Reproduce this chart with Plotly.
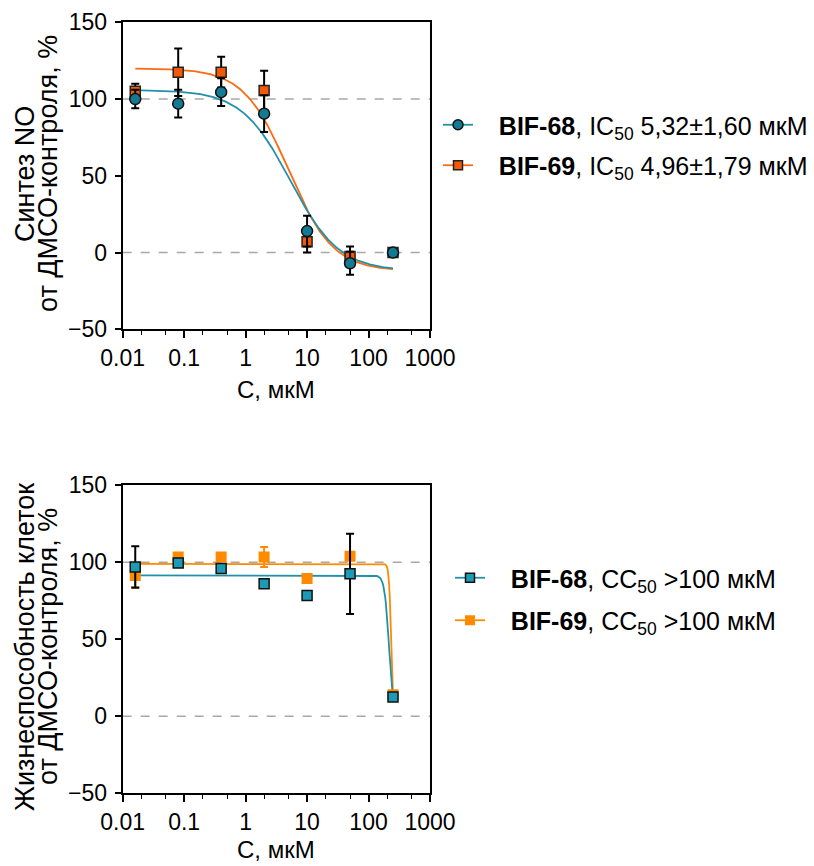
import numpy as np
import plotly.graph_objects as go

# Concentrations, µM
conc = [0.016, 0.08, 0.4, 2, 10, 50, 250]
x_ticks = [0.01, 0.1, 1, 10, 100, 1000]
x_tick_labels = ["0.01", "0.1", "1", "10", "100", "1000"]
y_ticks = [-50, 0, 50, 100, 150]

# NO synthesis, % of DMSO control (mean ± SD)
no_bif68 = [100, 97, 104.5, 90.5, 14, -7, 0]
no_bif68_err = [6, 9, 9, 12, 10, 7.5, 0]
no_bif69 = [105, 117.5, 117.5, 105.5, 7, -2.5, 0]
no_bif69_err = [5, 15.5, 10, 13, 7, 6.5, 0]

# Cell viability, % of DMSO control (mean ± SD)
via_bif68 = [97, 99.5, 96, 86, 78.5, 92.5, 12.5]
via_bif68_err = [13.5, 1, 1, 0, 0, 26, 0]
via_bif69 = [91.5, 103.5, 103.5, 103.5, 89.5, 104, 14]
via_bif69_err = [7.5, 0, 0, 6.5, 0, 0, 0]

# Four-parameter logistic fits
ic50_68, ic50_69 = 5.32, 4.96
fit_no_68 = dict(top=106, bottom=-12, ec50=ic50_68, hill=1.1)
fit_no_69 = dict(top=120, bottom=-12, ec50=ic50_69, hill=1.2)
fit_via_68 = dict(top=91.5, bottom=0, ec50=215, hill=12)
fit_via_69 = dict(top=99, bottom=0, ec50=233, hill=25)

TEAL_DARK = "#127b93"
TEAL_LINE = "#2390aa"
TEAL_LIGHT = "#1b9bb6"
ORANGE_RED = "#f25a0a"
ORANGE_LINE = "#ff6a10"
ORANGE = "#ff8a00"
FONT = "Liberation Sans, Arial, sans-serif"
TICK_SIZE = 23
LEGEND_SIZE = 25
X_TITLE_SIZE = 24
Y_TITLE_SIZE = 27
GAP = "&nbsp;&nbsp;&nbsp;"


def logistic(x, top, bottom, ec50, hill):
    x = np.asarray(x, dtype=float)
    return bottom + (top - bottom) / (1 + (x / ec50) ** hill)


xs = np.logspace(np.log10(conc[0]), np.log10(conc[-1]), 400)

fig = go.Figure()

# ---- top panel: NO synthesis ----
fig.add_trace(go.Scatter(x=xs, y=logistic(xs, **fit_no_69), mode="lines",
                         line=dict(color=ORANGE_LINE, width=1.8), showlegend=False,
                         xaxis="x", yaxis="y", hoverinfo="skip"))
fig.add_trace(go.Scatter(x=xs, y=logistic(xs, **fit_no_68), mode="lines",
                         line=dict(color=TEAL_LINE, width=1.8), showlegend=False,
                         xaxis="x", yaxis="y", hoverinfo="skip"))
fig.add_trace(go.Scatter(x=conc, y=no_bif69, mode="markers",
                         marker=dict(symbol="square", size=10, color=ORANGE_RED,
                                     line=dict(color="#222222", width=1.5)),
                         error_y=dict(type="data", array=no_bif69_err, color="black",
                                      thickness=2, width=4),
                         showlegend=False, xaxis="x", yaxis="y"))
fig.add_trace(go.Scatter(x=conc, y=no_bif68, mode="markers",
                         marker=dict(symbol="circle", size=11, color=TEAL_DARK,
                                     line=dict(color="#111111", width=1.5)),
                         error_y=dict(type="data", array=no_bif68_err, color="black",
                                      thickness=2, width=4),
                         showlegend=False, xaxis="x", yaxis="y"))

# legend entries, top panel
fig.add_trace(go.Scatter(x=[None], y=[None], mode="lines+markers",
                         name=GAP + "<b>BIF-68</b>, IC<sub>50</sub> 5,32±1,60 мкМ",
                         line=dict(color=TEAL_LINE, width=1.8),
                         marker=dict(symbol="circle", size=10, color=TEAL_DARK,
                                     line=dict(color="#111111", width=1.5)),
                         legend="legend", legendgroup="a", xaxis="x", yaxis="y"))
fig.add_trace(go.Scatter(x=[None], y=[None], mode="lines+markers",
                         name=GAP + "<b>BIF-69</b>, IC<sub>50</sub> 4,96±1,79 мкМ",
                         line=dict(color=ORANGE_LINE, width=1.8),
                         marker=dict(symbol="square", size=9, color=ORANGE_RED,
                                     line=dict(color="#222222", width=1.5)),
                         legend="legend", legendgroup="b", xaxis="x", yaxis="y"))

# ---- bottom panel: viability ----
fig.add_trace(go.Scatter(x=xs, y=logistic(xs, **fit_via_69), mode="lines",
                         line=dict(color=ORANGE, width=1.8), showlegend=False,
                         xaxis="x2", yaxis="y2", hoverinfo="skip"))
fig.add_trace(go.Scatter(x=xs, y=logistic(xs, **fit_via_68), mode="lines",
                         line=dict(color=TEAL_LINE, width=1.8), showlegend=False,
                         xaxis="x2", yaxis="y2", hoverinfo="skip"))
fig.add_trace(go.Scatter(x=conc, y=via_bif69, mode="markers",
                         marker=dict(symbol="square", size=11, color=ORANGE,
                                     line=dict(width=0)),
                         error_y=dict(type="data", array=via_bif69_err, color=ORANGE,
                                      thickness=2, width=4),
                         showlegend=False, xaxis="x2", yaxis="y2"))
fig.add_trace(go.Scatter(x=conc, y=via_bif68, mode="markers",
                         marker=dict(symbol="square", size=10, color=TEAL_LIGHT,
                                     line=dict(color="#111111", width=1.5)),
                         error_y=dict(type="data", array=via_bif68_err, color="black",
                                      thickness=2, width=4),
                         showlegend=False, xaxis="x2", yaxis="y2"))

fig.add_trace(go.Scatter(x=[None], y=[None], mode="lines+markers",
                         name=GAP + "<b>BIF-68</b>, CC<sub>50</sub> >100 мкМ",
                         line=dict(color=TEAL_LINE, width=1.8),
                         marker=dict(symbol="square", size=9, color=TEAL_LIGHT,
                                     line=dict(color="#111111", width=1.5)),
                         legend="legend2", legendgroup="c", xaxis="x2", yaxis="y2"))
fig.add_trace(go.Scatter(x=[None], y=[None], mode="lines+markers",
                         name=GAP + "<b>BIF-69</b>, CC<sub>50</sub> >100 мкМ",
                         line=dict(color=ORANGE, width=1.8),
                         marker=dict(symbol="square", size=10, color=ORANGE,
                                     line=dict(width=0)),
                         legend="legend2", legendgroup="d", xaxis="x2", yaxis="y2"))

W, H = 814, 866
x_dom = [122.7 / W, 430 / W]
top_dom = [1 - 329.3 / H, 1 - 22.3 / H]
bot_dom = [1 - 793.3 / H, 1 - 485.3 / H]

xaxis_style = dict(type="log", range=[-2, 3], tickvals=x_ticks, ticktext=x_tick_labels,
                   showline=True, linecolor="black", linewidth=2, mirror=True,
                   ticks="outside", ticklen=7, tickwidth=1.5, tickcolor="black",
                   minor=dict(ticks="outside", ticklen=4, tickwidth=1.2, tickcolor="black",
                              showgrid=False),
                   showgrid=False, zeroline=False, automargin=False,
                   tickfont=dict(family=FONT, size=TICK_SIZE, color="black"), domain=x_dom)
yaxis_style = dict(range=[-50, 150], tickvals=y_ticks,
                   showline=True, linecolor="black", linewidth=2, mirror=True,
                   ticks="outside", ticklen=6, tickwidth=1.5, tickcolor="black",
                   showgrid=False, zeroline=False, automargin=False, ticklabelstandoff=3,
                   tickfont=dict(family=FONT, size=TICK_SIZE, color="black"))

legend_style = dict(font=dict(family=FONT, size=LEGEND_SIZE, color="black"),
                    bgcolor="rgba(0,0,0,0)", xanchor="left", yanchor="middle",
                    traceorder="grouped", itemwidth=30)

fig.update_layout(
    width=W, height=H, margin=dict(l=0, r=0, t=0, b=0, autoexpand=False),
    paper_bgcolor="white", plot_bgcolor="white",
    font=dict(family=FONT, size=TICK_SIZE, color="black"),
    xaxis=dict(**xaxis_style, anchor="y"),
    yaxis=dict(**yaxis_style, domain=top_dom, anchor="x"),
    xaxis2=dict(**xaxis_style, anchor="y2"),
    yaxis2=dict(**yaxis_style, domain=bot_dom, anchor="x2"),
    legend=dict(**legend_style, tracegroupgap=5, x=438 / W, y=1 - 145 / H),
    legend2=dict(**legend_style, tracegroupgap=7, x=450 / W, y=1 - 599 / H),
    showlegend=True,
)

# dashed reference lines at 0 % and 100 %
for yref, xref in (("y", "x"), ("y2", "x2")):
    for level in (0, 100):
        fig.add_shape(type="line", xref=f"{xref} domain", yref=yref, x0=0, x1=1,
                      y0=level, y1=level, layer="below",
                      line=dict(color="#a8a8a8", width=1.5, dash="dash"))

# axis titles
y_title_font = dict(family=FONT, size=Y_TITLE_SIZE, color="black")
x_title_font = dict(family=FONT, size=X_TITLE_SIZE, color="black")
y_titles = [
    ("Синтез NO", "от ДМСО-контроля, %", 174),
    ("Жизнеспособность клеток", "от ДМСО-контроля, %", 647),
]
for line1, line2, yc in y_titles:
    for text, xc in ((line1, 25), (line2, 48)):
        fig.add_annotation(text=text, xref="paper", yref="paper", x=xc / W, y=1 - yc / H,
                           textangle=-90, showarrow=False, xanchor="center",
                           yanchor="middle", font=y_title_font)
for yc in (389, 849):
    fig.add_annotation(text="C, мкМ", xref="paper", yref="paper", x=276 / W, y=1 - yc / H,
                       showarrow=False, xanchor="center", yanchor="middle", font=x_title_font)

fig.write_html("out.html")
